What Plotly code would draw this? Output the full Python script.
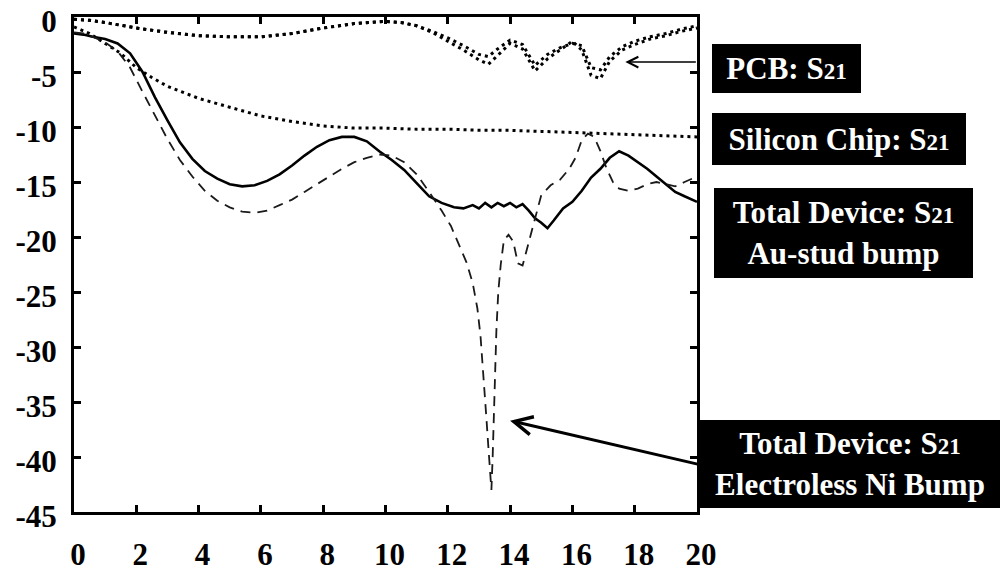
import plotly.graph_objects as go

# ---- measured S21 transmission data (frequency in GHz, magnitude in dB) ----
pcb_freq = [0, 0.5, 1, 2, 3, 4, 5, 6, 7, 8, 9, 10, 10.5, 11, 11.5, 12, 12.5, 13,
            13.3, 13.6, 14, 14.4, 14.8, 15.2, 15.6, 16, 16.3, 16.6, 16.9, 17.2,
            17.6, 18, 18.5, 19, 19.5, 20]
pcb_s21_a = [-0.2, -0.3, -0.5, -1.0, -1.4, -1.7, -1.8, -1.8, -1.5, -1.0, -0.6, -0.4,
             -0.5, -0.8, -1.3, -1.9, -2.6, -3.4, -3.6, -2.9, -2.1, -2.5, -4.4, -3.4,
             -2.8, -2.4, -2.6, -4.6, -4.8, -3.6, -2.7, -2.2, -1.8, -1.5, -1.1, -0.8]
pcb_s21_b = [-0.2, -0.3, -0.5, -1.0, -1.4, -1.7, -1.8, -1.8, -1.5, -1.0, -0.6, -0.4,
             -0.5, -0.8, -1.4, -2.2, -3.0, -3.9, -4.3, -3.5, -2.4, -2.9, -4.9, -3.8,
             -3.0, -2.2, -3.0, -5.3, -5.6, -4.0, -3.0, -2.5, -2.0, -1.7, -1.3, -1.0]

chip_freq = [0, 0.5, 1, 1.5, 2, 2.5, 3, 4, 5, 6, 7, 8, 9, 10, 11, 12, 13, 14, 15,
             16, 17, 18, 19, 20]
chip_s21 = [-0.9, -1.5, -2.4, -3.3, -4.6, -5.5, -6.3, -7.4, -8.2, -9.0, -9.5, -9.9,
            -10.1, -10.1, -10.2, -10.2, -10.3, -10.3, -10.4, -10.5, -10.6, -10.7,
            -10.8, -10.9]

au_freq = [0, 0.3, 0.6, 1.0, 1.4, 1.8, 2.2, 2.6, 3.0, 3.4, 3.8, 4.2, 4.6, 5.0, 5.4,
           5.8, 6.2, 6.6, 7.0, 7.4, 7.8, 8.2, 8.6, 9.0, 9.4, 9.8, 10.2, 10.6, 11.0,
           11.4, 11.8, 12.2, 12.5, 12.8, 13.0, 13.2, 13.4, 13.6, 13.8, 14.0, 14.2,
           14.4, 14.6, 14.8, 15.0, 15.2, 15.4, 15.7, 16.0, 16.3, 16.6, 16.9, 17.2,
           17.5, 17.8, 18.1, 18.4, 18.7, 19.0, 19.3, 19.6, 20.0]
au_s21 = [-1.5, -1.6, -1.8, -2.0, -2.4, -3.3, -5.0, -7.3, -9.4, -11.4, -12.9, -14.0,
          -14.7, -15.2, -15.4, -15.3, -14.9, -14.3, -13.5, -12.6, -11.8, -11.2, -10.9,
          -10.9, -11.3, -12.2, -13.0, -13.9, -15.1, -16.3, -16.9, -17.3, -17.4, -17.1,
          -17.4, -16.9, -17.3, -16.9, -17.2, -16.9, -17.3, -17.0, -17.6, -18.3, -18.7,
          -19.2, -18.5, -17.4, -16.8, -15.8, -14.6, -13.8, -12.8, -12.2, -12.6, -13.2,
          -13.8, -14.5, -15.2, -15.9, -16.3, -16.8]

ni_freq = [0, 0.3, 0.6, 1.0, 1.4, 1.8, 2.2, 2.6, 3.0, 3.4, 3.8, 4.2, 4.6, 5.0, 5.4,
           5.8, 6.2, 6.6, 7.0, 7.4, 7.8, 8.2, 8.6, 9.0, 9.4, 9.8, 10.2, 10.6, 11.0,
           11.4, 11.8, 12.1, 12.4, 12.6, 12.8, 12.95, 13.05, 13.12, 13.18, 13.24,
           13.30, 13.36, 13.40, 13.44, 13.48, 13.52, 13.56, 13.62, 13.70, 13.80,
           13.95, 14.1, 14.25, 14.4, 14.55, 14.7, 14.85, 15.0, 15.3, 15.6, 15.9,
           16.1, 16.3, 16.5, 16.7, 16.9, 17.1, 17.3, 17.5, 17.8, 18.1, 18.4, 18.7,
           19.0, 19.3, 19.6, 20.0]
ni_s21 = [-1.4, -1.5, -1.8, -2.3, -3.1, -4.6, -6.8, -9.0, -11.1, -13.0, -14.5, -15.8,
          -16.7, -17.3, -17.7, -17.8, -17.6, -17.1, -16.6, -15.9, -15.2, -14.5, -13.8,
          -13.2, -12.8, -12.5, -12.6, -13.2, -14.3, -15.9, -17.6, -19.0, -21.0, -22.3,
          -24.2, -26.5, -29.0, -31.5, -34.0, -36.5, -39.0, -41.5, -43.0, -40.0, -36.0,
          -32.0, -28.5, -25.0, -22.5, -20.3, -19.8, -20.4, -22.4, -22.6, -21.0, -19.5,
          -17.8, -16.2, -15.3, -14.8, -13.8, -12.8, -11.2, -10.6, -10.9, -12.2, -13.8,
          -15.0, -15.6, -15.8, -15.6, -15.2, -15.0, -15.2, -15.4, -15.0, -14.5]

x_ticks = [0, 2, 4, 6, 8, 10, 12, 14, 16, 18, 20]
y_ticks = [0, -5, -10, -15, -20, -25, -30, -35, -40, -45]
y_tick_text = ["0", "-5", "-10", "-15", "-20", "-25", "-30", "-35", "-40", "-45"]

# ---- figure geometry (pixels) ----
W, H = 1002, 575
L, R, T, B = 74, 697, 17, 512  # plot-area edges


def px_to_paper(px, py):
    return (px - L) / (R - L), (B - py) / (B - T)


SERIF = "Liberation Serif, Times New Roman, serif"
dot_style = "3px,4px"

fig = go.Figure()
fig.add_trace(go.Scatter(x=pcb_freq, y=pcb_s21_a, mode="lines",
                         line=dict(color="black", width=3, dash=dot_style)))
fig.add_trace(go.Scatter(x=pcb_freq, y=pcb_s21_b, mode="lines",
                         line=dict(color="black", width=3, dash=dot_style)))
fig.add_trace(go.Scatter(x=chip_freq, y=chip_s21, mode="lines",
                         line=dict(color="black", width=3, dash=dot_style)))
fig.add_trace(go.Scatter(x=au_freq, y=au_s21, mode="lines",
                         line=dict(color="black", width=2.6)))
fig.add_trace(go.Scatter(x=ni_freq, y=ni_s21, mode="lines",
                         line=dict(color="#1a1a1a", width=1.8, dash="10px,7px")))

axis_common = dict(
    showline=True, linecolor="black", linewidth=3, mirror="allticks",
    ticks="inside", ticklen=7, tickwidth=3, tickcolor="black",
    showgrid=False, zeroline=False, automargin=False, ticklabeloverflow="allow",
    tickfont=dict(family=SERIF, size=31, color="black", weight="bold"),
)
fig.update_xaxes(range=[0, 20], tickvals=x_ticks, ticklabelstandoff=13,
                 ticklabelshift=4, **axis_common)
fig.update_yaxes(range=[-45, 0], tickvals=y_ticks, ticktext=y_tick_text,
                 ticklabelstandoff=8, ticklabelshift=4, **axis_common)


def label_box(text, left, top, width, height):
    x, y = px_to_paper(left, top)
    return dict(
        text=text, xref="paper", yref="paper", x=x, y=y,
        xanchor="left", yanchor="top", showarrow=False,
        width=width, height=height, bgcolor="black",
        borderwidth=0, borderpad=0, align="center", valign="middle",
        font=dict(family=SERIF, size=31, color="white", weight="bold"),
    )


S21 = "S<span style='font-size:23px'>21</span>"
annotations = [
    label_box("PCB: " + S21, 712, 44, 149, 49),
    label_box("Silicon Chip: " + S21, 712, 113, 254, 52),
    label_box("Total Device: " + S21 + "<br>Au-stud bump", 714, 188, 259, 90),
    label_box("Total Device: " + S21 + "<br>Electroless Ni Bump", 700, 420, 300, 88),
    # arrow to the PCB resonances
    dict(x=17.7, y=-4.1, xref="x", yref="y", ax=72, ay=0, text="",
         showarrow=True, arrowhead=5, arrowsize=1.4, arrowwidth=1.5,
         arrowcolor="black"),
    # arrow to the electroless Ni notch
    dict(x=14.0, y=-36.7, xref="x", yref="y", ax=190, ay=44, text="",
         showarrow=True, arrowhead=5, arrowsize=1.2, arrowwidth=3,
         arrowcolor="black"),
]

fig.update_layout(
    width=W, height=H,
    margin=dict(l=L, r=W - R, t=T, b=H - B),
    paper_bgcolor="white", plot_bgcolor="white",
    showlegend=False,
    annotations=annotations,
)

fig.write_html("out.html")
